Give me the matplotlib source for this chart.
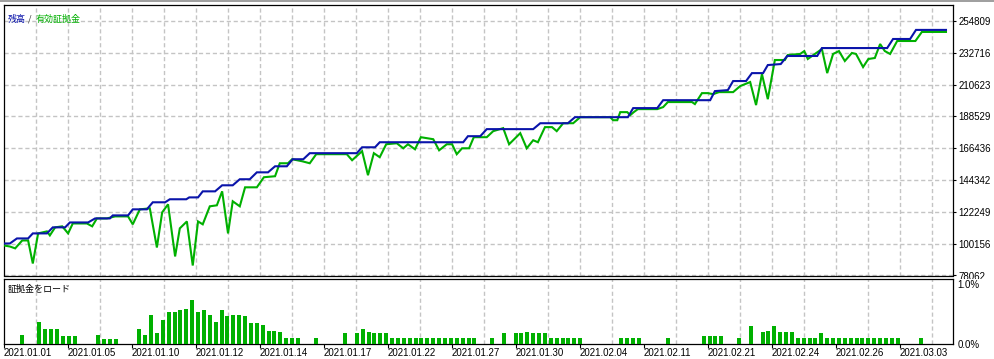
import matplotlib
matplotlib.use("Agg")
import matplotlib.pyplot as plt
import numpy as np
from matplotlib.patches import Rectangle
from matplotlib.transforms import Bbox, TransformedBbox

# balance curve (deal position, value)
bal_x = [0.0, 1.0, 2.2, 4.1, 4.9, 7.3, 8.3, 10.4, 11.2, 14.3, 15.5, 18.0, 18.5, 21.1,
         21.9, 24.3, 25.3, 27.4, 28.2, 31.0, 31.5, 33.0, 33.8, 35.9, 37.1, 38.9, 40.1,
         41.8, 43.0, 44.9, 46.1, 48.1, 49.1, 50.9, 52.0, 60.0, 60.9, 63.1, 63.9, 78.1,
         78.9, 81.0, 82.1, 90.0, 91.2, 95.9, 97.1, 106.1, 107.0, 111.1, 112.1, 120.1,
         120.9, 123.1, 124.0, 126.2, 127.2, 129.1, 129.9, 132.1, 133.2, 138.3, 139.1,
         150.2, 151.2, 154.1, 155.1, 160.2]
bal_y = [100300, 100300, 103800, 103800, 107300, 107300, 111500, 111500, 114900, 114900,
         117700, 117700, 119800, 119800, 124000, 124000, 128900, 128900, 131000, 131000,
         132300, 132300, 136500, 136500, 140700, 140700, 144900, 144900, 149700, 149700,
         153900, 153900, 158800, 158800, 163000, 163000, 167100, 167100, 170600, 170600,
         174800, 174800, 179700, 179700, 183800, 183800, 188000, 188000, 194300, 194300,
         199800, 199800, 206100, 206800, 213100, 213100, 218600, 218600, 224200, 224900,
         230500, 230500, 236000, 236000, 242300, 242300, 248600, 248600]

# equity curve (deal position, value)
eq_x = [0.0, 1.0, 1.9, 3.1, 4.1, 4.9, 5.8, 7.3, 7.8, 8.7, 9.9, 10.9, 11.7, 14.1, 15.0,
        15.8, 17.5, 18.9, 21.1, 21.9, 23.1, 24.8, 26.0, 26.9, 27.9, 29.1, 29.9, 31.1,
        32.1, 33.0, 33.8, 35.0, 36.2, 37.1, 38.1, 38.9, 40.1, 41.0, 43.0, 44.2, 46.1,
        46.9, 48.3, 49.0, 50.7, 52.0, 53.1, 58.3, 59.2, 60.9, 61.9, 62.9, 63.9, 65.0,
        66.8, 67.9, 68.7, 69.9, 70.9, 73.0, 74.0, 75.3, 76.2, 77.0, 77.9, 79.1, 79.9,
        82.1, 83.2, 84.9, 85.9, 87.8, 88.9, 90.0, 90.8, 92.0, 93.2, 94.0, 95.1, 96.8,
        98.0, 103.1, 103.6, 104.3, 104.8, 106.0, 106.5, 107.1, 107.8, 111.1, 112.1,
        112.9, 117.0, 117.5, 118.7, 119.7, 120.6, 121.6, 124.0, 125.2, 126.9, 127.9,
        128.9, 129.9, 131.1, 132.8, 133.3, 135.4, 136.1, 136.7, 137.9, 139.1, 140.0,
        141.0, 142.0, 143.0, 144.2, 144.9, 146.1, 147.0, 148.1, 149.0, 149.8, 150.7,
        151.9, 155.0, 156.1, 160.2]
eq_y = [98900, 98200, 96900, 102400, 102400, 86400, 107300, 108700, 105900, 111500,
        112200, 107300, 114200, 114200, 112200, 117700, 117700, 119100, 119100, 113600,
        124000, 124700, 97500, 121900, 127500, 91300, 110800, 115600, 85000, 115600,
        113600, 126100, 126800, 136500, 107300, 129600, 126100, 139300, 139300, 146300,
        147000, 156000, 156000, 158800, 157400, 156000, 162300, 162300, 158100, 164400,
        147700, 163000, 160200, 169200, 169900, 166400, 169200, 165700, 174100, 172700,
        165000, 169200, 169200, 162300, 166400, 166400, 174100, 174100, 178300, 180400,
        169200, 176900, 166400, 172000, 170600, 181100, 181100, 178300, 183800, 183800,
        188000, 188000, 185900, 185900, 191500, 191500, 189400, 191500, 193600, 193600,
        195000, 198500, 198500, 197100, 204700, 204700, 204000, 205400, 205400, 209600,
        212400, 196400, 217900, 200500, 227700, 227700, 231200, 231900, 233900, 228400,
        231900, 235300, 218600, 231900, 233900, 227000, 232600, 231900, 222800, 228400,
        229100, 238800, 233900, 231900, 240900, 240900, 247200, 247200]

# margin load per deal (%)
load_x = [3, 6, 7, 8, 9, 10, 11, 12, 16, 17, 18, 19,
          23, 24, 25, 26, 27, 28, 29, 30, 31, 32, 33, 34, 35, 36, 37, 38, 39, 40,
          41, 42, 43, 44, 45, 46, 47, 48, 49, 50, 53,
          58, 60, 61, 62, 63, 64, 65, 66, 67, 68, 69, 70, 71, 72, 73, 74, 75, 76,
          77, 78, 79, 80, 83, 85, 87, 88, 89, 90, 91, 92, 93, 94, 95, 96, 97, 98,
          105, 106, 107, 108, 113, 119, 120, 121, 122, 125, 127, 129, 130, 131,
          132, 133, 134, 135, 136, 137, 138, 139, 140, 141, 142, 143, 144, 145,
          146, 147, 148, 149, 150, 151, 152, 156]
load_y = [0.14, 0.37, 0.24, 0.25, 0.24, 0.12, 0.12, 0.12, 0.14, 0.07, 0.07, 0.07,
          0.25, 0.14, 0.49, 0.17, 0.39, 0.54, 0.53, 0.56, 0.59, 0.73, 0.54, 0.56,
          0.49, 0.37, 0.56, 0.46, 0.49, 0.49, 0.46, 0.34, 0.34, 0.32, 0.22, 0.22,
          0.20, 0.10, 0.10, 0.10, 0.085,
          0.17, 0.17, 0.25, 0.19, 0.17, 0.17, 0.17, 0.085, 0.085, 0.085, 0.085,
          0.085, 0.085, 0.085, 0.085, 0.085, 0.085, 0.085, 0.085, 0.085, 0.085,
          0.085, 0.085, 0.17, 0.17, 0.17, 0.19, 0.17, 0.17, 0.17, 0.085, 0.085,
          0.085, 0.085, 0.085, 0.085, 0.10, 0.10, 0.10, 0.10, 0.10, 0.12, 0.12,
          0.12, 0.12, 0.10, 0.29, 0.20, 0.22, 0.29, 0.19, 0.19, 0.19, 0.085, 0.085,
          0.085, 0.085, 0.17, 0.10, 0.085, 0.085, 0.085, 0.085, 0.085, 0.10, 0.085,
          0.085, 0.085, 0.085, 0.085, 0.085, 0.085]

y_ticks = [78062, 100156, 122249, 144342, 166436, 188529, 210623, 232716, 254809]
date_labels = ["2021.01.01", "2021.01.05", "2021.01.10", "2021.01.12", "2021.01.14",
               "2021.01.17", "2021.01.22", "2021.01.27", "2021.01.30", "2021.02.04",
               "2021.02.11", "2021.02.21", "2021.02.24", "2021.02.26", "2021.03.03"]

W, H = 995, 359
BLUE = "#0a14aa"
GREEN = "#00b000"
GRID = "#c4c4c4"
px_per_deal = 5.88
x_max = 949 / px_per_deal
grid_step = 32 / px_per_deal

plt.rcParams["font.family"] = ["Liberation Sans", "DejaVu Sans"]
fig = plt.figure(figsize=(W / 100, H / 100), dpi=100)
fig.add_artist(Rectangle((0, 1 - 1.5 / H), 1, 1.5 / H, transform=fig.transFigure,
                         color="#a0a0a0", lw=0))

ax = fig.add_axes([4 / W, 1 - 275.5 / H, 949 / W, 270.5 / H])
ax2 = fig.add_axes([4 / W, 1 - 343.5 / H, 949 / W, 64.5 / H])

# main panel
ax.plot(eq_x, eq_y, color=GREEN, lw=1.5, solid_joinstyle="miter", zorder=3)
ax.plot(bal_x, bal_y, color=BLUE, lw=1.5, solid_joinstyle="miter", zorder=4)
ax.set_xlim(0, x_max)
ax.set_ylim(78062, 265900)
ax.set_xticks(np.arange(grid_step, x_max, grid_step))
ax.set_yticks(y_ticks)
ax.set_yticklabels([str(v) for v in y_ticks])
ax.yaxis.tick_right()
ax.tick_params(axis="x", length=0, labelbottom=False)
ax.tick_params(axis="y", length=2.5, width=0.8, pad=1.5, labelsize=7)
ax.grid(True, color=GRID, lw=1, ls=(0, (3, 2)))
for s in ax.spines.values():
    s.set_linewidth(0.9)

# the lowest label is cut off by the margin panel, as in the terminal
clip = TransformedBbox(Bbox([[0, 1 - 278.5 / H], [1, 1]]), fig.transFigure)
for lbl in ax.get_yticklabels():
    lbl.set_clip_box(clip)
    lbl.set_clip_on(True)

ax.text(0.004, 0.965, "残高", color=BLUE, fontsize=6.5, transform=ax.transAxes,
        va="top", family=["Noto Sans CJK JP", "DejaVu Sans"])
ax.text(0.025, 0.965, "/", color="#333333", fontsize=6.5, transform=ax.transAxes,
        va="top", family=["Noto Sans CJK JP", "DejaVu Sans"])
ax.text(0.033, 0.965, "有効証拠金", color=GREEN, fontsize=6.5, transform=ax.transAxes,
        va="top", family=["Noto Sans CJK JP", "DejaVu Sans"])

# margin load panel
ax2.bar(load_x, load_y, width=0.68, color=GREEN, lw=0, zorder=3)
ax2.set_xlim(0, x_max)
ax2.set_ylim(0, 64.5 / 59)
ax2.set_yticks([0, 1.0])
ax2.set_yticklabels(["0.0%", "1.0%"])
ax2.yaxis.tick_right()
ax2.tick_params(axis="y", length=0, pad=3, labelsize=7)
ax2.set_xticks(np.arange(0, len(date_labels)) * 2 * grid_step)
ax2.set_xticklabels(date_labels)
ax2.set_xticks(np.arange(grid_step, x_max, grid_step), minor=True)
ax2.tick_params(axis="x", which="major", length=3, width=0.8, pad=0.5, labelsize=7)
ax2.tick_params(axis="x", which="minor", length=0)
plt.setp(ax2.get_xticklabels(), ha="left")
ax2.grid(True, axis="x", which="minor", color=GRID, lw=1, ls=(0, (3, 2)))
for s in ax2.spines.values():
    s.set_linewidth(0.9)
ax2.text(0.004, 0.9, "証拠金をロード", color="black", fontsize=6.5,
         transform=ax2.transAxes, va="top", family=["Noto Sans CJK JP", "DejaVu Sans"])

fig.savefig("out.png", dpi=100)
